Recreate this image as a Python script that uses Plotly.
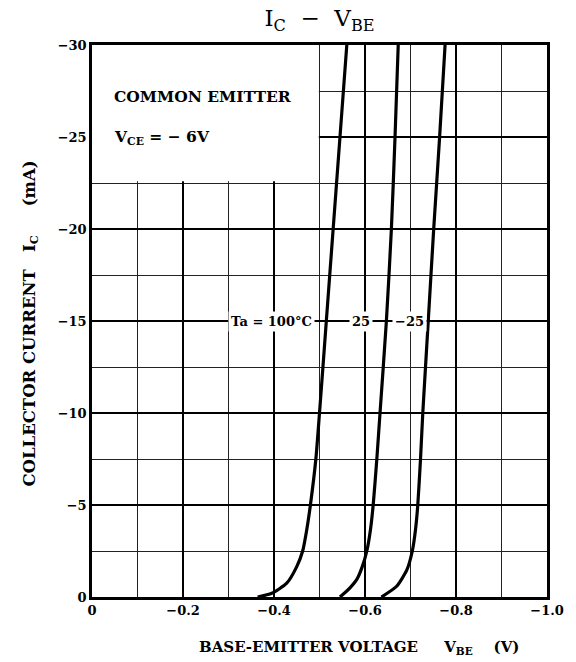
import plotly.graph_objects as go

# ---- data ----
x_ticks = [0, -0.2, -0.4, -0.6, -0.8, -1.0]
x_tick_labels = ["0", "−0.2", "−0.4", "−0.6", "−0.8", "−1.0"]
y_ticks = [0, -5, -10, -15, -20, -25, -30]
y_tick_labels = ["0", "−5", "−10", "−15", "−20", "−25", "−30"]

# Ta = 100 °C
vbe_100 = [-0.364, -0.395, -0.428, -0.450, -0.463, -0.472, -0.480, -0.492, -0.500, -0.515, -0.530, -0.545, -0.560]
ic_100 = [0, -0.2, -0.75, -1.65, -2.5, -3.66, -5, -7.5, -10, -15, -20, -25, -30]
# Ta = 25 °C
vbe_25 = [-0.545, -0.567, -0.583, -0.594, -0.604, -0.612, -0.618, -0.626, -0.633, -0.647, -0.658, -0.666, -0.673]
ic_25 = [0, -0.5, -1.0, -1.65, -2.5, -3.66, -5, -7.5, -10, -15, -20, -25, -30]
# Ta = -25 °C
vbe_m25 = [-0.636, -0.669, -0.692, -0.704, -0.711, -0.716, -0.722, -0.727, -0.739, -0.751, -0.764, -0.776]
ic_m25 = [0, -0.57, -1.47, -2.5, -3.66, -5, -7.5, -10, -15, -20, -25, -30]

curve_labels = ["Ta = 100°C", "25", "−25"]
label_x = [-0.395, -0.592, -0.697]
label_y = -15

FONT = "DejaVu Serif"

fig = go.Figure()
for vx, iy in [(vbe_100, ic_100), (vbe_25, ic_25), (vbe_m25, ic_m25)]:
    fig.add_trace(go.Scatter(x=vx, y=iy, mode="lines",
                             line=dict(color="black", width=3.2, shape="spline", smoothing=0.6),
                             showlegend=False, hoverinfo="skip"))

# blank panel (top-left) hiding the grid behind the condition text
fig.add_shape(type="rect", xref="x", yref="y", x0=0, x1=-0.4985, y0=-22.6, y1=-30,
              fillcolor="white", line=dict(width=0), layer="between")

for txt, lx in zip(curve_labels, label_x):
    fig.add_annotation(x=lx, y=label_y, xref="x", yref="y", text=txt, showarrow=False,
                       font=dict(family=FONT, size=13, color="black", weight="bold"),
                       bgcolor="white", borderpad=2)

fig.add_annotation(x=-0.045, y=-27.2, xref="x", yref="y", text="COMMON EMITTER",
                   showarrow=False, xanchor="left",
                   font=dict(family=FONT, size=15.5, color="black", weight="bold"))
fig.add_annotation(x=-0.045, y=-25.0, xref="x", yref="y", text="V<sub>CE</sub> = − 6V",
                   showarrow=False, xanchor="left",
                   font=dict(family=FONT, size=15.5, color="black", weight="bold"))

# axis titles
fig.add_annotation(x=0.586, y=-0.112, xref="paper", yref="paper",
                   text="BASE-EMITTER VOLTAGE     V<sub>BE</sub>    (V)", showarrow=False,
                   font=dict(family=FONT, size=15, color="black", weight="bold"))
fig.add_annotation(x=-0.162, y=0.495, xref="paper", yref="paper", textangle=-90,
                   text="COLLECTOR CURRENT   I<sub>C</sub>     (mA)", showarrow=False,
                   font=dict(family=FONT, size=16.5, color="black", weight="bold"))

fig.update_layout(
    width=576, height=662,
    margin=dict(l=92, r=21, t=45, b=65),
    paper_bgcolor="white", plot_bgcolor="white",
    title=dict(text="I<sub>C</sub>  −  V<sub>BE</sub>", x=0.5, xanchor="center",
               xref="paper", y=0.973, yanchor="middle",
               font=dict(family=FONT, size=23, color="black")),
    font=dict(family=FONT, color="black"),
)
tick_font = dict(family=FONT, size=13, color="black", weight="bold")
fig.update_xaxes(range=[0, -1.0], tickvals=x_ticks, ticktext=x_tick_labels,
                 showgrid=True, gridcolor="black", gridwidth=1.8,
                 minor=dict(dtick=0.1, showgrid=True, gridcolor="#222", gridwidth=1, ticks=""),
                 showline=True, linecolor="black", linewidth=2.5, mirror=True,
                 ticks="", zeroline=False, tickfont=tick_font)
fig.update_yaxes(range=[0, -30], tickvals=y_ticks, ticktext=y_tick_labels,
                 showgrid=True, gridcolor="black", gridwidth=1.8,
                 minor=dict(dtick=2.5, showgrid=True, gridcolor="#222", gridwidth=1, ticks=""),
                 showline=True, linecolor="black", linewidth=2.5, mirror=True,
                 ticks="", zeroline=False, tickfont=tick_font)

# remove the page's default body margin so the 576x662 figure fills the window exactly
fig.write_html("out.html", config={"displayModeBar": False},
               post_script="document.body.style.margin='0';")
